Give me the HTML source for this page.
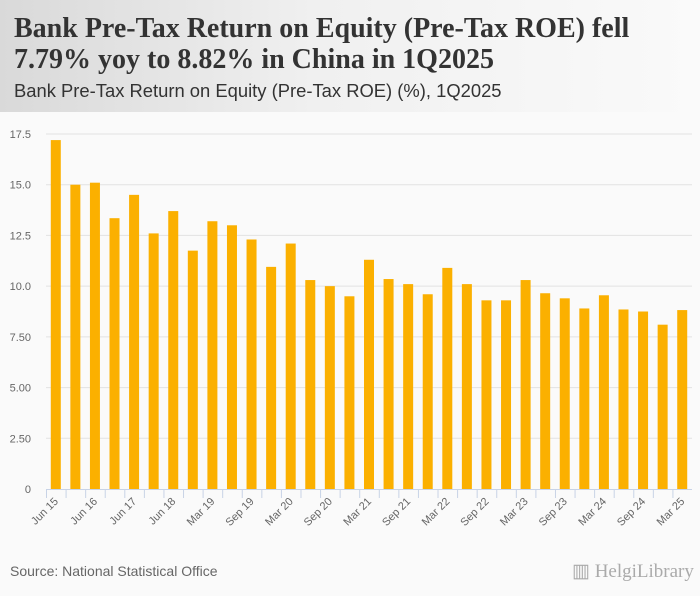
<!DOCTYPE html>
<html><head><meta charset="utf-8"><style>
body{margin:0;width:700px;height:596px;background:#fafafa;font-family:"Liberation Sans",sans-serif;overflow:hidden;position:relative}
#hdr{position:absolute;left:0;top:0;width:700px;height:112px;background:linear-gradient(90deg,#d9d9d9 0%,#f0f0f0 45%,#fafafa 100%)}
#t{position:absolute;left:14px;top:13px;font-family:"Liberation Serif",serif;font-weight:bold;font-size:28px;line-height:31px;color:#333}
#st{position:absolute;left:14px;top:80px;font-size:18.4px;color:#333}
#src{position:absolute;left:10px;top:563px;font-size:14px;color:#666}
#logo{position:absolute;left:572px;top:560px;font-family:"Liberation Serif",serif;font-size:19px;color:#aaa}
</style></head><body>
<div id="hdr"></div>
<div id="t">Bank Pre-Tax Return on Equity (Pre-Tax ROE) fell<br>7.79% yoy to 8.82% in China in 1Q2025</div>
<div id="st">Bank Pre-Tax Return on Equity (Pre-Tax ROE) (%), 1Q2025</div>
<svg id="c" width="700" height="596" style="position:absolute;left:0;top:0"></svg>
<div id="src">Source: National Statistical Office</div>
<div id="logo">▥ HelgiLibrary</div>
<script>
const categories=["Jun 15","Dec 15","Jun 16","Dec 16","Jun 17","Dec 17","Jun 18","Dec 18","Mar 19","Jun 19","Sep 19","Dec 19","Mar 20","Jun 20","Sep 20","Dec 20","Mar 21","Jun 21","Sep 21","Dec 21","Mar 22","Jun 22","Sep 22","Dec 22","Mar 23","Jun 23","Sep 23","Dec 23","Mar 24","Jun 24","Sep 24","Dec 24","Mar 25"];
const values=[17.2,15.0,15.1,13.35,14.5,12.6,13.7,11.75,13.2,13.0,12.3,10.95,12.1,10.3,10.0,9.5,11.3,10.35,10.1,9.6,10.9,10.1,9.3,9.3,10.3,9.65,9.4,8.9,9.55,8.85,8.75,8.1,8.82];
const yTicks=[0,2.5,5,7.5,10,12.5,15,17.5];
const yTickLabels=["0","2.50","5.00","7.50","10.0","12.5","15.0","17.5"];
const svg=document.getElementById('c');const NS="http://www.w3.org/2000/svg";
const X0=46,X1=692,Y0=489,YT=134,YMAX=17.5;
const slot=(X1-X0)/categories.length;
const y=v=>Y0-(v/YMAX)*(Y0-YT);
const x=i=>X0+slot*i;
function mk(t,a,p){const e=document.createElementNS(NS,t);for(const k in a)e.setAttribute(k,a[k]);(p||svg).appendChild(e);return e;}
const pbg=mk('rect',{x:0,y:112,width:700,height:430,fill:'#fafafa'});


yTicks.forEach((v,i)=>{
  if(v>0){const g=mk('line',{x1:X0,x2:X1,y1:y(v),y2:y(v),stroke:'#e2e2e2','stroke-width':1});
  
  }
  const t=mk('text',{x:31,y:y(v)+4,'text-anchor':'end','font-size':11,fill:'#666','font-family':'Liberation Sans, sans-serif'});
  t.textContent=yTickLabels[i];
  
  
});
values.forEach((v,i)=>{
  const r=mk('rect',{x:x(i)+slot/2-5,y:y(v),width:10,height:Y0-y(v),fill:'#fbb000'});
  
  
});
const ax=mk('line',{x1:X0,x2:X1,y1:Y0+0.5,y2:Y0+0.5,stroke:'#c8d3e6'});


categories.forEach((c,i)=>{
  const tk=mk('line',{x1:x(i)+0.5,x2:x(i)+0.5,y1:Y0,y2:Y0+9,stroke:'#c8d3e6'});
  
  
  if(i%2===0){const cx=x(i)+slot/2+3,cy=Y0+13;
    const t=mk('text',{x:cx,y:cy,'text-anchor':'end','font-size':11,fill:'#666','font-family':'Liberation Sans, sans-serif',transform:`rotate(-45 ${cx} ${cy})`});
    t.textContent=c;
    
    }
});
</script>
</body></html>
